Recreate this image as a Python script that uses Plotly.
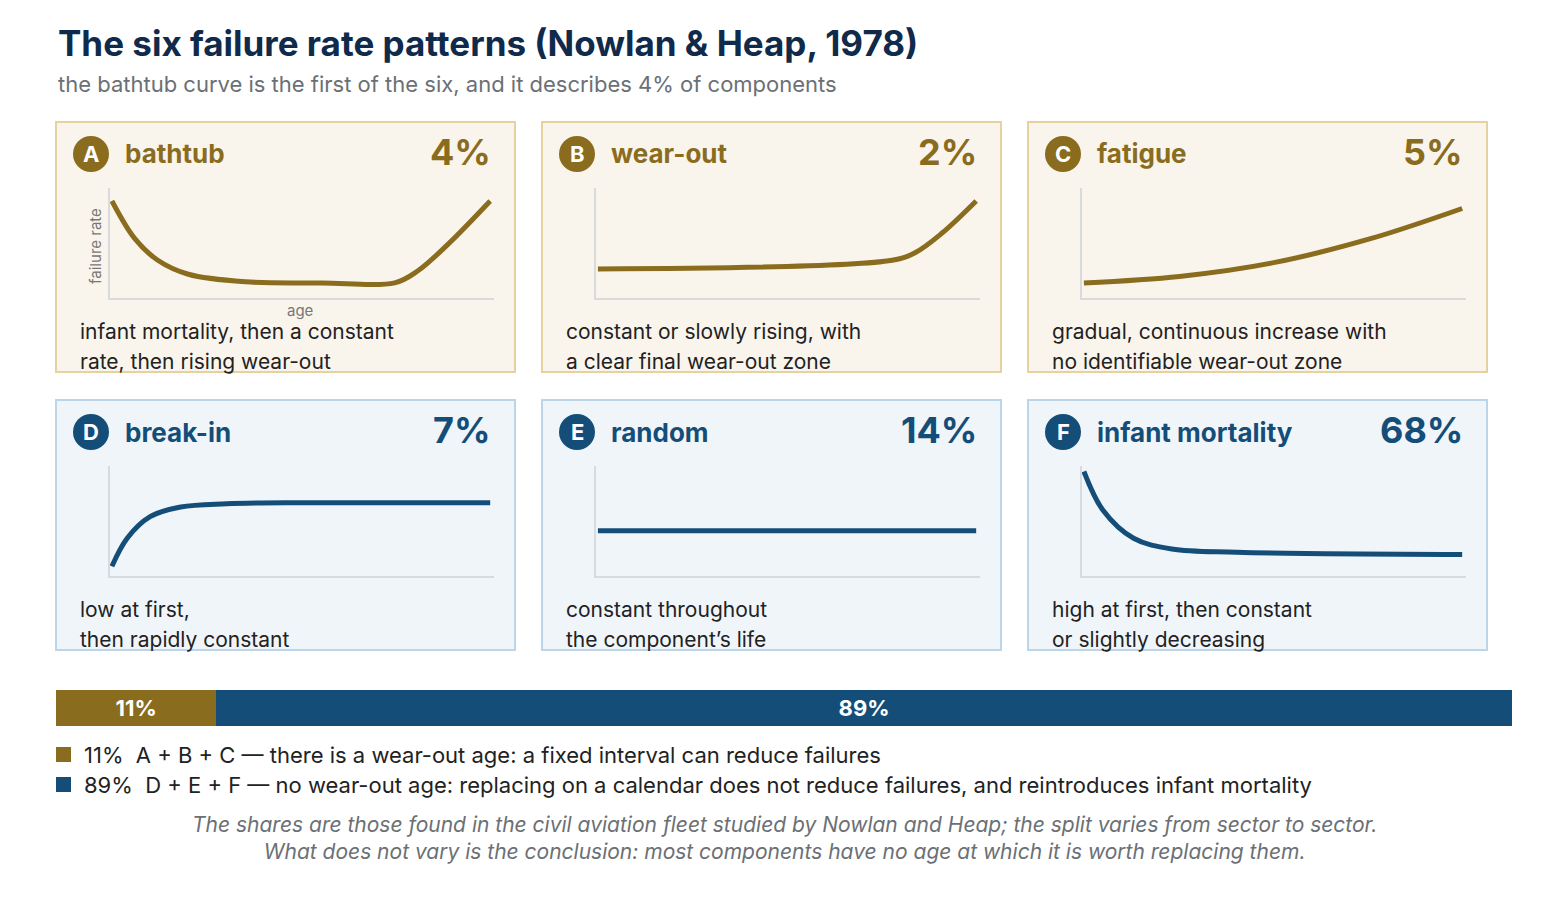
import plotly.graph_objects as go

# The page has an 8px body margin, so the figure is drawn 16px smaller
W, H = 1552, 884
OFF = 8

# Panel content
letters = ["A", "B", "C", "D", "E", "F"]
names = ["bathtub", "wear-out", "fatigue", "break-in", "random", "infant mortality"]
shares = [4, 2, 5, 7, 14, 68]
notes = [
    ("infant mortality, then a constant", "rate, then rising wear-out"),
    ("constant or slowly rising, with", "a clear final wear-out zone"),
    ("gradual, continuous increase with", "no identifiable wear-out zone"),
    ("low at first,", "then rapidly constant"),
    ("constant throughout", "the component\u2019s life"),
    ("high at first, then constant", "or slightly decreasing"),
]

# Curve shapes (age 0..1, failure rate 0..1)
curve_x = [
    [0, 0.06, 0.12, 0.2, 0.35, 0.55, 0.74, 0.8, 0.88, 0.99],
    [0, 0.77, 0.83, 0.9, 0.99],
    [0, 0.25, 0.5, 0.75, 0.99],
    [0, 0.04, 0.1, 0.18, 0.3, 0.5, 0.99],
    [0, 0.5, 0.99],
    [0, 0.05, 0.13, 0.23, 0.4, 0.99],
]
curve_y = [
    [0.9, 0.55, 0.35, 0.22, 0.15, 0.14, 0.14, 0.25, 0.5, 0.9],
    [0.27, 0.35, 0.42, 0.6, 0.9],
    [0.14, 0.2, 0.33, 0.55, 0.83],
    [0.09, 0.35, 0.55, 0.64, 0.67, 0.68, 0.68],
    [0.42, 0.42, 0.42],
    [0.97, 0.61, 0.35, 0.25, 0.22, 0.2],
]

split_labels = ["A + B + C", "D + E + F"]
split_values = [11, 89]
split_notes = [
    "there is a wear-out age: a fixed interval can reduce failures",
    "no wear-out age: replacing on a calendar does not reduce failures, and reintroduces infant mortality",
]

GOLD, BLUE = "#8A6C1E", "#144E78"
FILLS = {GOLD: "#FAF5EC", BLUE: "#F0F5FA"}
BORDERS = {GOLD: "#E6D29E", BLUE: "#BDD5E8"}
FONT = "Inter"


def px(x):
    return (x - OFF) / W


def py(y):
    return 1 - (y - OFF) / H


fig = go.Figure()
shapes, annos = [], []

panel_x = [56, 542, 1028]
panel_y = [122, 400]
for i in range(6):
    col, row = i % 3, i // 3
    x0, y0 = panel_x[col], panel_y[row]
    c = GOLD if row == 0 else BLUE
    shapes.append(dict(type="rect", xref="paper", yref="paper",
                       x0=px(x0), x1=px(x0 + 459), y0=py(y0 + 250), y1=py(y0),
                       line=dict(color=BORDERS[c], width=2), fillcolor=FILLS[c],
                       layer="below"))
    shapes.append(dict(type="circle", xref="paper", yref="paper",
                       x0=px(x0 + 17), x1=px(x0 + 53), y0=py(y0 + 50), y1=py(y0 + 14),
                       line=dict(width=0), fillcolor=c))
    annos.append(dict(x=px(x0 + 35), y=py(y0 + 32), text=f"<b>{letters[i]}</b>",
                      font=dict(size=22, color="white", family=FONT)))
    annos.append(dict(x=px(x0 + 67), y=py(y0 + 32), text=f"<b>{names[i]}</b>", xanchor="left",
                      font=dict(size=26, color=c, family=FONT)))
    annos.append(dict(x=px(x0 + 437), y=py(y0 + 30), text=f"<b>{shares[i]}%</b>", xanchor="right",
                      font=dict(size=36, color=c, family=FONT)))
    for k, line in enumerate(notes[i]):
        annos.append(dict(x=px(x0 + 22), y=py(y0 + 209 + 30 * k), text=line, xanchor="left",
                          font=dict(size=21, color="#222222", family=FONT)))

    ax = "" if i == 0 else str(i + 1)
    fig.add_trace(go.Scatter(x=curve_x[i], y=curve_y[i], mode="lines",
                             line=dict(color=c, width=5, shape="spline", smoothing=1.0),
                             xaxis="x" + ax, yaxis="y" + ax, hoverinfo="skip"))
    axis = dict(showgrid=False, zeroline=False, showticklabels=False,
                showline=True, linecolor="#D8DADD", linewidth=2, ticks="")
    dom_x = [px(x0 + 54), px(x0 + 438)]
    dom_y = [py(y0 + 176), py(y0 + 66)]
    fig.layout["xaxis" + ax] = dict(axis, domain=dom_x, range=[-0.005, 1], anchor="y" + ax)
    fig.layout["yaxis" + ax] = dict(axis, domain=dom_y, range=[0, 1.02], anchor="x" + ax)

annos.append(dict(x=px(96), y=py(246), text="failure rate", textangle=-90,
                  font=dict(size=15, color="#777777", family=FONT)))
annos.append(dict(x=px(300), y=py(310), text="age",
                  font=dict(size=15, color="#777777", family=FONT)))

# Split bar
for v, c in zip(split_values, [GOLD, BLUE]):
    fig.add_trace(go.Bar(x=[v], y=[0], orientation="h", marker=dict(color=c, line=dict(width=0)),
                         text=[f"<b>{v}%</b>"], textposition="inside", insidetextanchor="middle",
                         textfont=dict(size=22, color="white", family=FONT),
                         xaxis="x7", yaxis="y7", width=1, hoverinfo="skip"))
fig.layout["xaxis7"] = dict(domain=[px(56), px(1512)], range=[0, 100], visible=False, anchor="y7")
fig.layout["yaxis7"] = dict(domain=[py(726), py(690)], range=[-0.5, 0.5], visible=False, anchor="x7")

for k, (lab, v, note, c) in enumerate(zip(split_labels, split_values, split_notes, [GOLD, BLUE])):
    yy = 755 + 30 * k
    shapes.append(dict(type="rect", xref="paper", yref="paper", x0=px(56), x1=px(71),
                       y0=py(yy + 7), y1=py(yy - 8), fillcolor=c, line=dict(width=0)))
    annos.append(dict(x=px(82), y=py(yy), xanchor="left",
                      text=f"{v}%  {lab} \u2014 {note}",
                      font=dict(size=22, color="#222222", family=FONT)))

annos.append(dict(x=px(784), y=py(838),
                  text="<i>The shares are those found in the civil aviation fleet studied by Nowlan and Heap; the split varies from sector to sector.<br>"
                       "What does not vary is the conclusion: most components have no age at which it is worth replacing them.</i>",
                  font=dict(size=21, color="#6B7075", family=FONT)))

annos.append(dict(x=px(56), y=py(43), xanchor="left",
                  text="<b>The six failure rate patterns (Nowlan & Heap, 1978)</b>",
                  font=dict(size=35, color="#0F2A4A", family=FONT)))
annos.append(dict(x=px(56), y=py(84), xanchor="left",
                  text="the bathtub curve is the first of the six, and it describes 4% of components",
                  font=dict(size=22, color="#6B7075", family=FONT)))

for a in annos:
    a.setdefault("xref", "paper")
    a.setdefault("yref", "paper")
    a.setdefault("xanchor", "center")
    a.setdefault("yanchor", "middle")
    a.setdefault("showarrow", False)

fig.update_layout(width=W, height=H, margin=dict(l=0, r=0, t=0, b=0),
                  plot_bgcolor="rgba(0,0,0,0)", paper_bgcolor="white",
                  showlegend=False, barmode="stack", shapes=shapes, annotations=annos,
                  font=dict(family=FONT))
fig.write_html("out.html")
